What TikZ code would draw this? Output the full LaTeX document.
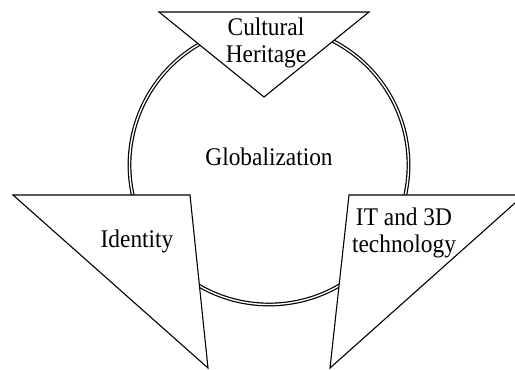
\documentclass[tikz,border=0pt]{standalone}
\usepackage{fontspec}
\setmainfont{Liberation Serif}
\begin{document}
\begin{tikzpicture}[x=1bp,y=-1bp,
  ring/.style={draw=black,double=white,double distance=1.4bp,line width=1.2bp},
  tri/.style={draw=black,fill=white,line width=1.1bp,line join=miter},
  lbl/.style={font=\fontsize{25.5}{26.5}\selectfont,align=center,inner sep=0pt,anchor=base,xscale=0.92,transform shape}]
\useasboundingbox (0,0) rectangle (515,369);
\coordinate (c) at (269,165);
\draw[ring] (c) circle[radius=139.5];
% top triangle
\coordinate (t1) at (159,12);
\coordinate (t2) at (369,12);
\coordinate (t3) at (264,97);
\draw[tri] (t1) -- (t2) -- (t3) -- cycle;
% left triangle
\coordinate (l1) at (13,195);
\coordinate (l2) at (190,195);
\coordinate (l3) at (208,368);
\draw[tri] (l1) -- (l2) -- (l3) -- cycle;
% right triangle
\coordinate (r1) at (349,195);
\coordinate (r2) at (524,195);
\coordinate (r3) at (330,368);
\draw[tri] (r1) -- (r2) -- (r3) -- cycle;
\node[lbl] (heritage) at (266,62) {Cultural\\Heritage};
\node[lbl] (glob) at (269,165) {Globalization};
\node[lbl] (ident) at (137,247) {Identity};
\node[lbl] (it) at (404,252) {IT and 3D\\technology};
\end{tikzpicture}
\end{document}
